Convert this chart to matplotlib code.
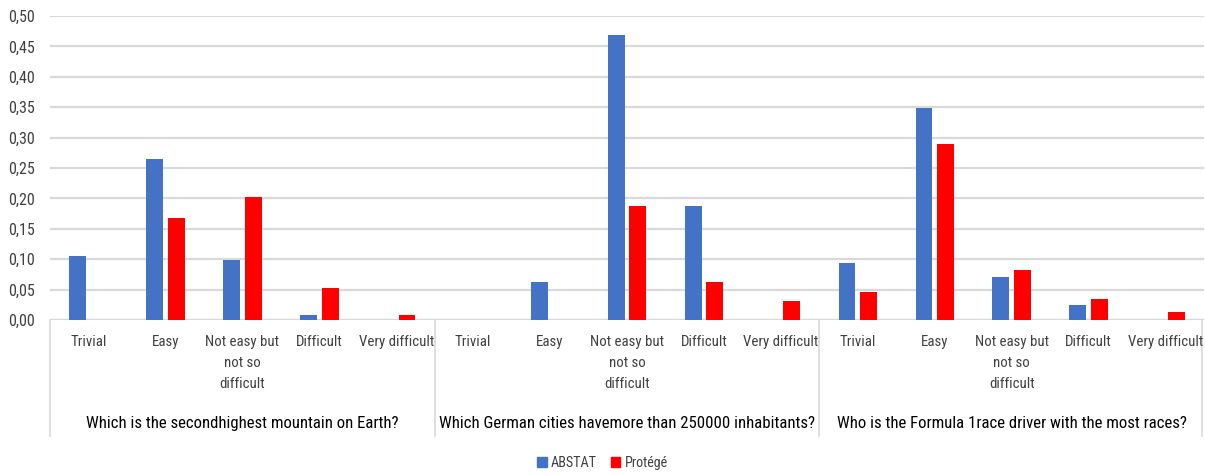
import matplotlib
matplotlib.use("Agg")
import matplotlib.pyplot as plt
from matplotlib import font_manager as fm
from matplotlib.patches import Patch
from matplotlib.textpath import TextPath
from matplotlib.font_manager import FontProperties
import numpy as np

questions = ["Which is the secondhighest mountain on Earth?",
             "Which German cities havemore than 250000 inhabitants?",
             "Who is the Formula 1race driver with the most races?"]
levels = ["Trivial", "Easy", "Not easy but\nnot so\ndifficult", "Difficult", "Very difficult"]
abstat = [0.105, 0.265, 0.098, 0.009, 0.0,
          0.0, 0.062, 0.469, 0.187, 0.0,
          0.094, 0.348, 0.070, 0.024, 0.0]
protege = [0.0, 0.168, 0.202, 0.053, 0.009,
           0.0, 0.0, 0.188, 0.062, 0.031,
           0.046, 0.289, 0.082, 0.035, 0.013]
yticks = [0.0, 0.05, 0.10, 0.15, 0.20, 0.25, 0.30, 0.35, 0.40, 0.45, 0.50]

names = {f.name for f in fm.fontManager.ttflist}
fam = "DejaVu Sans"
for c in ["Liberation Sans Narrow", "DejaVu Sans Condensed", "Roboto Condensed",
          "Open Sans Condensed", "Liberation Sans"]:
    if c in names:
        fam = c
        break
plt.rcParams['font.family'] = [fam, "DejaVu Sans"]


def fit_size(text, target_px, maxsize):
    tp = TextPath((0, 0), text, size=10, prop=FontProperties(family=fam))
    wpx = tp.get_extents().width * 100 / 72
    return min(maxsize, 10 * target_px / wpx)


cat_fs = fit_size("Very difficult", 74, 11.5)
grp_fs = fit_size(questions[1], 374, 12.5)
tick_fs = fit_size("0,50", 27, 11.5)
leg_fs = cat_fs * 0.95

BLUE = "#4472C4"
RED = "#FF0000"
GRID = "#D9D9D9"
TXT = "#404040"

fig = plt.figure(figsize=(12.05, 4.75), dpi=100)
ax = fig.add_axes([50/1205, 1-320/475, 1154/1205, 304/475])

n = len(abstat)
x = np.arange(n)
w = 0.22
ax.bar(x - 0.14, abstat, w, color=BLUE, zorder=3)
ax.bar(x + 0.14, protege, w, color=RED, zorder=3)

ax.set_xlim(-0.5, n - 0.5)
ax.set_ylim(0, 0.5)
ax.set_yticks(yticks)
ax.set_yticklabels([f"{v:.2f}".replace(".", ",") for v in yticks], fontsize=tick_fs, color=TXT)
ax.tick_params(axis='y', length=0, pad=11)
ax.set_xticks([])
for s in ax.spines.values():
    s.set_visible(False)
ax.grid(axis='y', color=GRID, linewidth=1.6, zorder=0)
ax.axhline(0, color=GRID, linewidth=1.6, zorder=2)

trans = ax.get_xaxis_transform()
for b in [-0.5, 4.5, 9.5, 14.47]:
    ax.plot([b, b], [0, -0.38], transform=trans, color=GRID, linewidth=1.2, clip_on=False)

for g, q in enumerate(questions):
    for i, lv in enumerate(levels):
        ax.text(g * 5 + i, -0.048, lv, transform=trans, ha='center', va='top',
                fontsize=cat_fs, color=TXT, linespacing=1.65)
    ax.text(g * 5 + 2, -0.34, q, transform=trans, ha='center', va='center',
            fontsize=grp_fs, color="#000000")

handles = [Patch(color=BLUE, label="ABSTAT"), Patch(color=RED, label="Protégé")]
fig.legend(handles=handles, loc='center', bbox_to_anchor=(0.5, 1-463/475), ncol=2,
           frameon=False, fontsize=leg_fs, handlelength=0.65, handleheight=0.65,
           handletextpad=0.3, columnspacing=1.0, labelcolor=TXT)

fig.savefig("out.png", dpi=100)
